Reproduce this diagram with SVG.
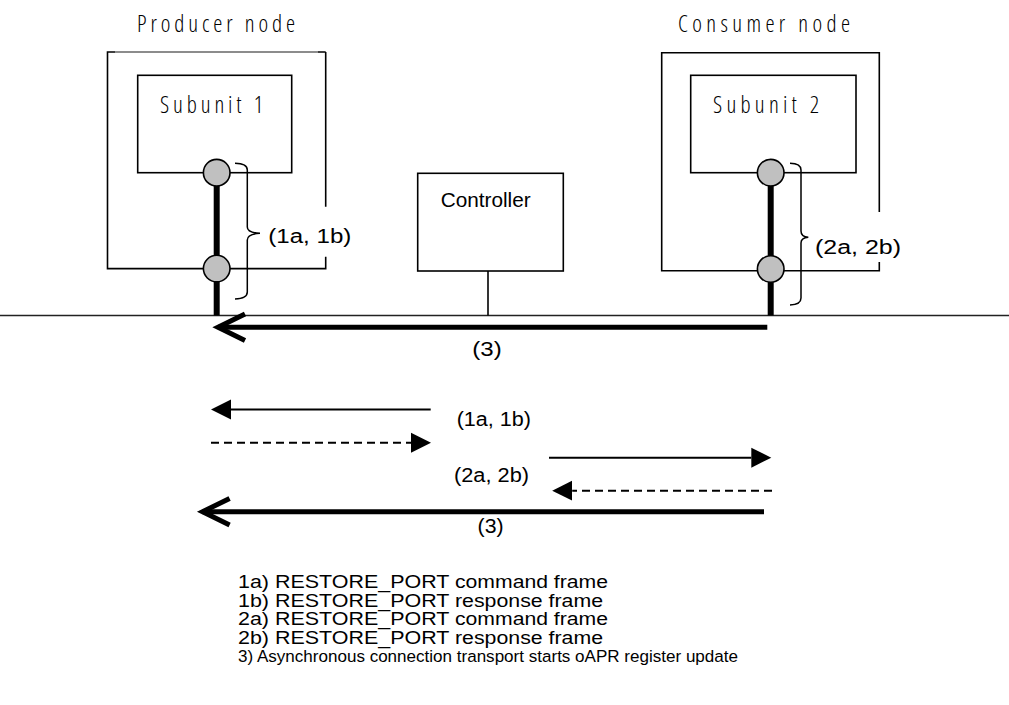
<svg xmlns="http://www.w3.org/2000/svg" width="1009" height="705" viewBox="0 0 1009 705">
  <style>
    .title { font-family: "Open Sans", "Liberation Sans", Arial, sans-serif; font-weight: 300; font-stretch: condensed; font-size: 23px; fill: #000; }
    .lbl { font-family: "Liberation Sans", Arial, sans-serif; font-size: 19.5px; fill: #000; }
    .legend { font-family: "Liberation Sans", Arial, sans-serif; font-size: 17.5px; fill: #000; }
    .box { fill: none; stroke: #000; stroke-width: 1.6; }
    .port { fill: #c0c0c0; stroke: #000; stroke-width: 1.6; }
    .link { stroke: #000; stroke-width: 6; }
    .brace { fill: none; stroke: #000; stroke-width: 1.5; }
    .thin { stroke: #000; stroke-width: 2; fill: none; }
    .dash { stroke: #000; stroke-width: 2; fill: none; stroke-dasharray: 8 5; }
    .thick { stroke: #000; stroke-width: 5; fill: none; }
  </style>
  <defs>
    <marker id="tri" markerUnits="userSpaceOnUse" markerWidth="22" markerHeight="22" viewBox="0 -11 22 22" refX="0" refY="0" orient="auto">
      <path d="M0,-10 L20,0 L0,10 z" fill="#000"/>
    </marker>
    <marker id="chev" markerUnits="userSpaceOnUse" markerWidth="40" markerHeight="40" viewBox="-32 -20 40 40" refX="0" refY="0" orient="auto">
      <path d="M-27,-13.3 L0,0 L-27,13.3" fill="none" stroke="#000" stroke-width="5"/>
    </marker>
  </defs>

  <rect width="1009" height="705" fill="#fff"/>

  <!-- shared bus -->
  <line x1="0" y1="315.5" x2="1009" y2="315.5" stroke="#222" stroke-width="1.6"/>

  <!-- producer node -->
  <g id="producer-node">
    <text class="title" x="137" y="32" textLength="158" lengthAdjust="spacing">Producer node</text>
    <path class="box" d="M325.7,206.7 L325.7,52 M325.7,52 L318,52 M115,52 L107.5,52 L107.5,268.6 L325.7,268.6 L325.7,256.7"/>
    <line x1="115" y1="52" x2="318" y2="52" stroke="#666" stroke-width="1.3"/>
    <g id="subunit-1">
      <rect class="box" x="137.7" y="75.3" width="154" height="97.4"/>
      <text class="title" x="160" y="112.7" font-size="24" textLength="103" lengthAdjust="spacing">Subunit 1</text>
    </g>
  </g>

  <!-- consumer node -->
  <g id="consumer-node">
    <text class="title" x="678" y="32" textLength="172" lengthAdjust="spacing">Consumer node</text>
    <path class="box" d="M879.3,212 L879.3,52.7 L661.7,52.7 L661.7,270.7 L879.3,270.7 L879.3,262"/>
    <g id="subunit-2">
      <rect class="box" x="690.7" y="75.3" width="165.3" height="97.4"/>
      <text class="title" x="713" y="112.7" font-size="24" textLength="106" lengthAdjust="spacing">Subunit 2</text>
    </g>
  </g>

  <!-- controller -->
  <g id="controller">
    <rect class="box" x="417.7" y="173.3" width="145.6" height="97.7"/>
    <line x1="488" y1="271" x2="488" y2="315.5" stroke="#000" stroke-width="1.6"/>
    <text class="lbl" x="440.7" y="207.3" font-size="20.5" textLength="90" lengthAdjust="spacingAndGlyphs">Controller</text>
  </g>

  <!-- port links, ports and transfer arrows -->
  <g id="connectors">
    <line class="link" x1="216.7" y1="172.7" x2="216.7" y2="315.5"/>
    <line class="link" x1="770.7" y1="172.7" x2="770.7" y2="315.5"/>
    <circle class="port" cx="216.7" cy="172.7" r="13.3"/>
    <circle class="port" cx="216.7" cy="268.6" r="13.3"/>
    <circle class="port" cx="770.7" cy="172.7" r="13.3"/>
    <circle class="port" cx="770.7" cy="269" r="13.3"/>

    <path class="brace" d="M235,163.3 Q247.3,163.5 247.3,170 L247.3,227 Q247.3,232.8 260,233.3 Q247.3,233.8 247.3,240 L247.3,292 Q247.3,298.5 235,299"/>
    <path class="brace" d="M790,163.3 Q801,163.5 801,170 L801,231 Q801,236.8 808.3,237.3 Q801,237.8 801,243 L801,298 Q801,304.5 790,305"/>

    <line class="thick" x1="767.3" y1="327.3" x2="218" y2="327.3" marker-end="url(#chev)"/>

    <line class="thin" x1="430.7" y1="409.5" x2="231" y2="409.5" marker-end="url(#tri)"/>
    <line class="dash" x1="211" y1="442.7" x2="411" y2="442.7" marker-end="url(#tri)"/>
    <line class="thin" x1="549" y1="457.7" x2="751.3" y2="457.7" marker-end="url(#tri)"/>
    <line class="dash" x1="772" y1="490.7" x2="572.2" y2="490.7" marker-end="url(#tri)"/>
    <line class="thick" x1="764" y1="511.7" x2="202.6" y2="511.7" marker-end="url(#chev)"/>
  </g>

  <!-- step labels -->
  <g id="labels">
    <text class="lbl" x="268.3" y="242.5" font-size="21.5" textLength="83" lengthAdjust="spacingAndGlyphs">(1a, 1b)</text>
    <text class="lbl" x="815" y="254" font-size="21.5" textLength="86" lengthAdjust="spacingAndGlyphs">(2a, 2b)</text>
    <text class="lbl" x="472.3" y="356" font-size="20" textLength="29.4" lengthAdjust="spacingAndGlyphs">(3)</text>
    <text class="lbl" x="456.7" y="426" textLength="74.3" lengthAdjust="spacingAndGlyphs">(1a, 1b)</text>
    <text class="lbl" x="454" y="481.5" textLength="75" lengthAdjust="spacingAndGlyphs">(2a, 2b)</text>
    <text class="lbl" x="477.6" y="533" textLength="26" lengthAdjust="spacingAndGlyphs">(3)</text>
  </g>

  <!-- legend -->
  <g id="legend" class="legend">
    <text x="238" y="588"><tspan textLength="211" lengthAdjust="spacingAndGlyphs">1a) RESTORE_PORT</tspan> <tspan x="455" textLength="153" lengthAdjust="spacingAndGlyphs">command frame</tspan></text>
    <text x="238" y="606.5"><tspan textLength="211" lengthAdjust="spacingAndGlyphs">1b) RESTORE_PORT</tspan> <tspan x="455" textLength="148" lengthAdjust="spacingAndGlyphs">response frame</tspan></text>
    <text x="238" y="625"><tspan textLength="211" lengthAdjust="spacingAndGlyphs">2a) RESTORE_PORT</tspan> <tspan x="455" textLength="153" lengthAdjust="spacingAndGlyphs">command frame</tspan></text>
    <text x="238" y="643.5"><tspan textLength="211" lengthAdjust="spacingAndGlyphs">2b) RESTORE_PORT</tspan> <tspan x="455" textLength="148" lengthAdjust="spacingAndGlyphs">response frame</tspan></text>
    <text x="238" y="662" font-size="17.2" textLength="500" lengthAdjust="spacingAndGlyphs">3) Asynchronous connection transport starts oAPR register update</text>
  </g>
</svg>
